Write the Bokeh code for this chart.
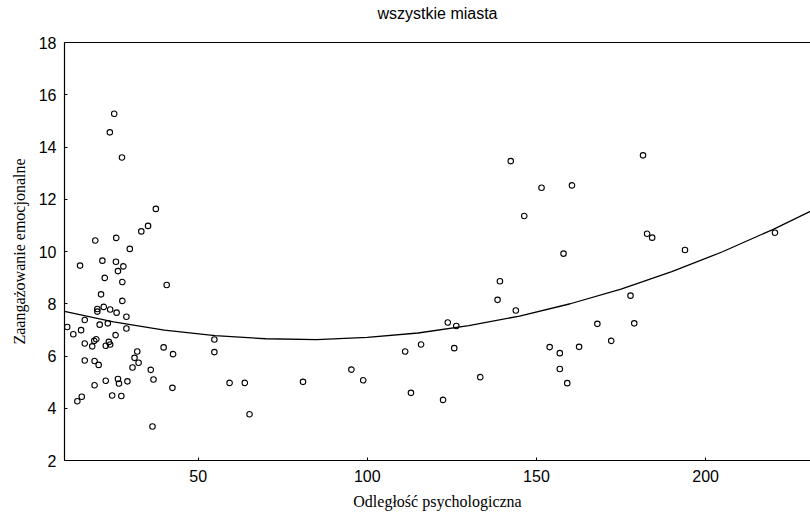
from bokeh.plotting import figure
from bokeh.models import FixedTicker, Range1d, LinearAxis
from bokeh.embed import file_html
from bokeh.resources import INLINE

title_text = "wszystkie miasta"
x_label = "Odległość psychologiczna"
y_label = "Zaangażowanie emocjonalne"
x_ticks = [50, 100, 150, 200]
y_ticks = [2, 4, 6, 8, 10, 12, 14, 16, 18]

# psychological distance (x) and emotional engagement (y)
dist = [
    25.2, 23.9, 27.5, 37.5, 35.2, 33.2, 19.6, 25.8, 29.8, 15.1, 21.7, 25.7, 27.9,
    26.3, 22.4, 27.6, 40.7, 21.3, 27.6, 20.2, 20.2, 22.1, 24.0, 25.9, 28.8, 16.5,
    20.9, 23.3, 28.8, 15.4, 11.3, 13.1, 25.6, 16.5, 18.7, 19.3, 19.9, 22.7, 23.6,
    24.0, 32.0, 31.2, 32.4, 30.6, 39.8, 42.6, 16.5, 19.4, 20.6, 36.0, 36.8, 42.4,
    19.4, 22.7, 26.3, 26.6, 29.1, 24.6, 27.3, 14.3, 15.6, 36.5,
    54.8, 54.8, 59.3, 63.8, 65.2, 81.0, 95.3, 98.8,
    111.2, 115.9, 112.9, 122.4, 123.8, 126.3, 125.7, 133.4, 143.9,
    142.4, 151.5, 160.5, 146.4, 181.5, 182.7, 184.2, 158.0, 139.2, 138.5, 177.8,
    168.0, 178.9, 172.1, 153.9, 156.9, 162.6, 156.9, 159.1,
    193.9, 220.5,
]
engagement = [
    15.27, 14.56, 13.6, 11.63, 10.98, 10.77, 10.42, 10.52, 10.1, 9.46, 9.65, 9.61, 9.43,
    9.25, 8.99, 8.83, 8.72, 8.36, 8.11, 7.8, 7.7, 7.88, 7.78, 7.66, 7.5, 7.38,
    7.2, 7.25, 7.05, 6.99, 7.11, 6.83, 6.8, 6.48, 6.37, 6.58, 6.64, 6.39, 6.54,
    6.44, 6.17, 5.93, 5.74, 5.56, 6.33, 6.07, 5.83, 5.81, 5.66, 5.47, 5.1, 4.78,
    4.88, 5.05, 5.12, 4.95, 5.03, 4.49, 4.47, 4.27, 4.44, 3.3,
    6.63, 6.15, 4.97, 4.97, 3.77, 5.01, 5.48, 5.07,
    6.17, 6.44, 4.59, 4.32, 7.28, 7.15, 6.3, 5.19, 7.74,
    13.46, 12.44, 12.53, 11.36, 13.68, 10.68, 10.53, 9.92, 8.86, 8.15, 8.31,
    7.23, 7.25, 6.58, 6.34, 6.11, 6.35, 5.5, 4.96,
    10.06, 10.72,
]

# fitted (quadratic) trend curve
fit_x = [10.5, 25, 40, 55, 70, 85, 100, 115, 130, 145, 160, 175, 190, 205, 220, 231]
fit_y = [7.71, 7.31, 6.99, 6.78, 6.66, 6.63, 6.71, 6.88, 7.16, 7.53, 8.00, 8.56,
         9.23, 9.99, 10.85, 11.54]

X_MIN, X_MAX = 10.5, 231.0

p = figure(width=810, height=518, output_backend="svg", toolbar_location=None,
           x_range=Range1d(X_MIN, X_MAX), y_range=Range1d(2, 18),
           min_border_left=64, min_border_right=0, min_border_top=42,
           min_border_bottom=58)

p.outline_line_color = None
p.xgrid.visible = False
p.ygrid.visible = False
p.background_fill_color = "white"
p.border_fill_color = "white"

bottom_axis = p.below[0]
left_axis = p.left[0]

tick_font = "'Liberation Sans Narrow', 'Liberation Sans'"
for ax in (bottom_axis, left_axis):
    ax.axis_line_color = "black"
    ax.axis_line_width = 1.2
    ax.major_tick_in = 3
    ax.major_tick_out = 0
    ax.minor_tick_line_color = None
    ax.major_label_text_font = tick_font
    ax.major_label_text_font_size = "16px"
    ax.major_label_text_color = "black"
    ax.axis_label_text_font = "Liberation Serif"
    ax.axis_label_text_font_size = "16px"
    ax.axis_label_text_font_style = "normal"
    ax.axis_label_text_color = "black"

bottom_axis.ticker = FixedTicker(ticks=x_ticks)
left_axis.ticker = FixedTicker(ticks=y_ticks)
bottom_axis.axis_label = x_label
left_axis.axis_label = y_label
bottom_axis.major_label_standoff = 9
bottom_axis.axis_label_standoff = 8
left_axis.major_label_standoff = 8
left_axis.axis_label_standoff = 8

# top frame line carrying the chart title
top = LinearAxis(ticker=FixedTicker(ticks=[]), axis_label=title_text)
top.major_label_text_font_size = "0px"
top.major_tick_in = 0
top.major_tick_out = 0
top.minor_tick_line_color = None
top.major_label_standoff = 0
top.axis_label_standoff = 21
top.axis_label_text_font = "Liberation Sans"
top.axis_label_text_font_size = "16px"
top.axis_label_text_font_style = "normal"
top.axis_label_text_color = "black"
top.axis_line_color = "black"
top.axis_line_width = 1.2
p.add_layout(top, "above")

p.line(fit_x, fit_y, line_color="black", line_width=1.3)

p.scatter(dist, engagement, marker="circle", size=5.5, fill_color=None,
          line_color="black", line_width=1.1)

open("out.html", "w").write(file_html(p, INLINE))
